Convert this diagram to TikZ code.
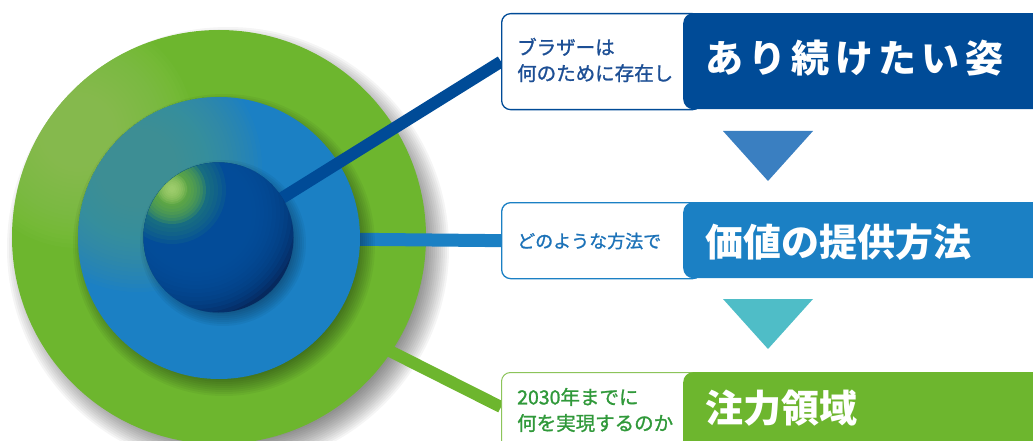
\documentclass[tikz,border=0pt]{standalone}
\usepackage{fontspec}
\newfontfamily\jp{Noto Sans CJK JP}
\newfontfamily\jpwide[LetterSpace=14]{Noto Sans CJK JP}
\newfontfamily\jpm[FakeBold=1.2]{Noto Sans CJK JP}

\definecolor{navy}{HTML}{004B97}
\definecolor{midblue}{HTML}{1B80C4}
\definecolor{cgreen}{HTML}{6DB62E}
\definecolor{lgreen}{HTML}{95C962}
\definecolor{tealc}{HTML}{4C9C8E}
\definecolor{tri1}{HTML}{3A7FC1}
\definecolor{tri2}{HTML}{4FBDC7}
\definecolor{navytxt}{HTML}{1D4F95}
\definecolor{bluetxt}{HTML}{1C72B8}
\definecolor{greentxt}{HTML}{30993A}
\definecolor{greenline}{HTML}{8CC45A}
\definecolor{hla}{HTML}{B2D77E}
\definecolor{hlc}{HTML}{72B836}
\definecolor{hld}{HTML}{2A8A72}
\definecolor{sphblue}{HTML}{03509F}
\definecolor{sphdark}{HTML}{06295E}

\pgfdeclarelayer{back}
\pgfsetlayers{back,main}

\begin{document}
\begin{tikzpicture}[x=1pt,y=-1pt,
  disc/.style={circle, inner sep=0pt, outer sep=0pt},
  qbox/.style={draw, fill=white, rounded corners=9pt, line width=1.3pt,
    minimum width=200pt, inner sep=0pt, anchor=north west},
  abox/.style={rounded corners=10pt, minimum width=380pt, inner sep=0pt,
    anchor=north west},
  smalltxt/.style={anchor=west, align=left, inner sep=0pt,
    font=\jpm\fontsize{19.5}{26}\selectfont},
  bigtxt/.style={anchor=west, inner sep=0pt, text=white,
    font=\jp\bfseries\fontsize{38}{44}\selectfont},
  shadowring/.style={black, opacity=#1},
]
\useasboundingbox (0,0) rectangle (1033,441);
\clip (0,0) rectangle (1033,441);

% ---- question / answer boxes
\node[qbox, draw=navy, minimum height=96pt] (q1) at (501,13) {};
\node[abox, fill=navy, minimum height=96pt] (a1) at (683,13) {};
\node[qbox, draw=midblue, minimum height=76pt] (q2) at (501,202) {};
\node[abox, fill=midblue, minimum height=76pt] (a2) at (683,202) {};
\node[qbox, draw=greenline, line width=1pt, minimum height=96pt] (q3) at (501,372) {};
\node[abox, fill=cgreen, minimum height=96pt] (a3) at (683,372) {};

\node[smalltxt, text=navytxt] (s1) at (517,60) {ブラザーは\\何のために存在し};
\node[bigtxt, font=\jpwide\bfseries\fontsize{38}{44}\selectfont] (b1) at (705,58.5) {あり続けたい姿};
\node[smalltxt, text=bluetxt, font=\jpm\fontsize{18}{24}\selectfont] (s2) at (517,241) {どのような方法で};
\node[bigtxt] (b2) at (705,242) {価値の提供方法};
\node[smalltxt, text=greentxt] (s3) at (517,410) {2030年までに\\何を実現するのか};
\node[bigtxt] (b3) at (705,408) {注力領域};

% ---- downward arrows between the boxes
\coordinate (d1l) at (723,131); \coordinate (d1r) at (813,131); \coordinate (d1t) at (768,181);
\coordinate (d2l) at (723,299); \coordinate (d2r) at (813,299); \coordinate (d2t) at (768,349);
\fill[tri1] (d1l) -- (d1r) -- (d1t) -- cycle;
\fill[tri2] (d2l) -- (d2r) -- (d2t) -- cycle;

\begin{pgfonlayer}{back}
% geometry of the three discs
\node[disc, minimum size=414pt] (outer) at (219,237) {};
\node[disc, minimum size=282pt] (mid) at (219,238) {};
\node[disc, minimum size=150pt] (sphere) at (218.5,237.5) {};
\coordinate (gstart) at (219,265);
\coordinate (q3in) at (501,407);

% outer disc: soft drop shadow, connector, fill, highlight
\foreach \r in {221,219,...,195}
  \fill[shadowring=0.038] (228,248) circle[radius=\r pt];
\draw[cgreen, line width=12pt] (gstart) -- (q3in);
\fill[cgreen] (outer.center) circle[radius=207pt];
\begin{scope}
  \clip (outer.center) circle[radius=207pt];
  \foreach \r in {116,112,...,36}
    \fill[lgreen, opacity=0.06] (78,132) circle[radius=\r pt];
\end{scope}

% middle disc
\draw[midblue, line width=13pt] (mid) -- (q2.west);
\foreach \r in {151,149,...,133}
  \fill[shadowring=0.045] (224,245) circle[radius=\r pt];
\fill[midblue] (mid.center) circle[radius=141pt];
\begin{scope}
  \clip (mid.center) circle[radius=141pt];
  \foreach \r in {124,120,...,40}
    \fill[tealc, opacity=0.07] (138,168) circle[radius=\r pt];
\end{scope}

% core sphere: dark rim, blue body, green highlight up-left
\foreach \r in {83,81,...,67}
  \fill[shadowring=0.045] (223,243) circle[radius=\r pt];
\draw[navy, line width=12pt] (sphere.center) -- (q1.west);
\fill[sphdark] (sphere.center) circle[radius=75pt];
\begin{scope}
  \clip (sphere.center) circle[radius=75pt];
  \foreach \r in {104,100,...,56}
    \fill[sphblue, opacity=0.2] (196,213) circle[radius=\r pt];
  \foreach \r in {54,50,...,30}
    \fill[hld, opacity=0.15] (172,190) circle[radius=\r pt];
  \foreach \r in {34,31,...,7}
    \fill[hlc, opacity=0.19] (172,190) circle[radius=\r pt];
  \foreach \r in {15,13,...,3}
    \fill[hla, opacity=0.18] (172,189) circle[radius=\r pt];
\end{scope}
\end{pgfonlayer}
\end{tikzpicture}
\end{document}
